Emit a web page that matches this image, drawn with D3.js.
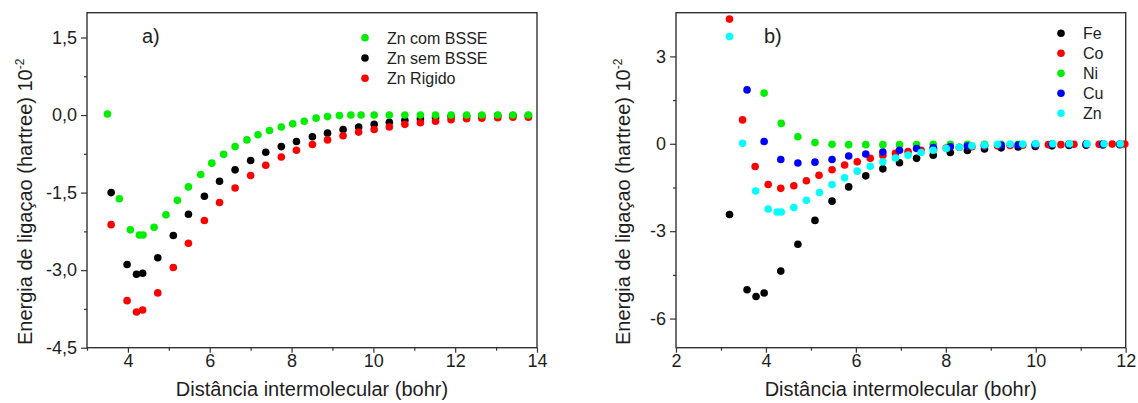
<!DOCTYPE html>
<html>
<head>
<meta charset="utf-8">
<script src="https://cdn.jsdelivr.net/npm/d3@7"></script>
<style>
  body { margin: 0; background: #fff; }
  svg text { font-family: "Liberation Sans", Arial, sans-serif; fill: #1e1e1e; }
</style>
</head>
<body>
<svg id="chart" width="1138" height="403"></svg>
<script>
// ---- panel a) Zn ----
const aXTicks = [4, 6, 8, 10, 12, 14];
const aXMinor = [3, 5, 7, 9, 11, 13];
const aYTicks = [1.5, 0, -1.5, -3, -4.5];
const aYMinor = [0.75, -0.75, -2.25, -3.75];

const znComDist = [3.50, 3.79, 4.06, 4.28, 4.37, 4.64, 4.93, 5.21, 5.48, 5.78, 6.05, 6.34, 6.62, 6.91, 7.18, 7.46, 7.75, 8.03, 8.31, 8.60, 8.88, 9.17, 9.45, 9.70, 10.02, 10.39, 10.77, 11.15, 11.52, 11.90, 12.28, 12.65, 13.04, 13.41, 13.79];
const znComBSSE = [0.02, -1.62, -2.22, -2.32, -2.32, -2.17, -1.93, -1.65, -1.39, -1.15, -0.93, -0.76, -0.61, -0.48, -0.38, -0.30, -0.23, -0.17, -0.12, -0.06, -0.03, -0.01, 0.00, 0.00, 0.00, 0.00, 0.00, 0.00, 0.00, 0.00, 0.00, 0.00, 0.00, 0.00, 0.00];

// sem BSSE and Rigido were computed at the same distances
const znDist = [3.59, 3.98, 4.21, 4.36, 4.73, 5.11, 5.48, 5.87, 6.24, 6.62, 7.00, 7.37, 7.75, 8.12, 8.51, 8.88, 9.26, 9.64, 10.02, 10.39, 10.77, 11.15, 11.52, 11.90, 12.28, 12.65, 13.04, 13.41, 13.79];
const znSemBSSE = [-1.50, -2.89, -3.08, -3.06, -2.76, -2.33, -1.92, -1.57, -1.28, -1.06, -0.88, -0.72, -0.61, -0.51, -0.42, -0.35, -0.28, -0.23, -0.18, -0.14, -0.10, -0.07, -0.05, -0.03, -0.02, -0.02, -0.01, -0.01, -0.01];
const znRigido = [-2.12, -3.59, -3.81, -3.77, -3.44, -2.95, -2.48, -2.04, -1.69, -1.41, -1.17, -0.97, -0.81, -0.68, -0.57, -0.48, -0.40, -0.33, -0.28, -0.23, -0.18, -0.15, -0.12, -0.09, -0.07, -0.06, -0.05, -0.04, -0.04];

// ---- panel b) Fe, Co, Ni, Cu, Zn ----
const bXTicks = [2, 4, 6, 8, 10, 12];
const bXMinor = [3, 5, 7, 9, 11];
const bYTicks = [3, 0, -3, -6];
const bYMinor = [1.5, -1.5, -4.5];

const feDist = [3.19, 3.58, 3.78, 3.96, 4.33, 4.71, 5.09, 5.47, 5.84, 6.22, 6.60, 6.97, 7.35, 7.72, 8.10, 8.48, 8.86, 9.23, 9.61, 9.99, 10.36, 10.74, 11.12, 11.49, 11.87];
const feE = [-2.43, -5.01, -5.24, -5.12, -4.37, -3.45, -2.63, -1.97, -1.48, -1.10, -0.86, -0.65, -0.50, -0.39, -0.30, -0.23, -0.18, -0.14, -0.11, -0.09, -0.07, -0.06, -0.05, -0.04, -0.03];

const coDist = [3.19, 3.48, 3.76, 4.05, 4.33, 4.62, 4.90, 5.18, 5.47, 5.75, 6.03, 6.32, 6.60, 6.88, 7.16, 7.45, 7.73, 8.01, 8.30, 8.58, 8.86, 9.15, 9.43, 9.71, 10.00, 10.28, 10.56, 10.85, 11.13, 11.41, 11.70, 11.98];
const coE = [4.28, 0.82, -0.78, -1.40, -1.53, -1.44, -1.27, -1.08, -0.89, -0.73, -0.62, -0.50, -0.40, -0.33, -0.27, -0.22, -0.18, -0.15, -0.12, -0.10, -0.08, -0.07, -0.06, -0.05, -0.04, -0.03, -0.03, -0.02, -0.02, -0.02, -0.01, -0.01];

const niDist = [3.96, 4.34, 4.71, 5.09, 5.47, 5.84, 6.22, 6.60, 6.97, 7.35, 7.72, 8.10, 8.48, 8.86, 9.23, 9.61, 9.99, 10.36, 10.74, 11.12, 11.49, 11.87];
const niE = [1.74, 0.70, 0.24, 0.04, -0.02, -0.03, -0.03, -0.03, -0.03, -0.03, -0.02, -0.02, -0.02, -0.02, -0.02, -0.02, -0.01, -0.01, -0.01, -0.01, -0.01, -0.01];

const cuDist = [3.58, 3.96, 4.33, 4.71, 5.09, 5.47, 5.84, 6.22, 6.60, 6.97, 7.35, 7.72, 8.10, 8.48, 8.86, 9.23, 9.61, 9.99, 10.36, 10.74, 11.12, 11.49, 11.87];
const cuE = [1.85, 0.08, -0.54, -0.66, -0.63, -0.54, -0.42, -0.35, -0.28, -0.22, -0.16, -0.13, -0.10, -0.08, -0.06, -0.05, -0.04, -0.03, -0.02, -0.02, -0.01, -0.01, -0.01];

const znbDist = [3.19, 3.48, 3.77, 4.05, 4.25, 4.34, 4.62, 4.90, 5.19, 5.47, 5.75, 6.03, 6.32, 6.60, 6.88, 7.16, 7.45, 7.72, 8.01, 8.30, 8.58, 8.86, 9.15, 9.43, 9.71, 10.00, 10.38, 10.75, 11.14, 11.52, 11.88];
const znbE = [3.68, 0.02, -1.62, -2.24, -2.34, -2.34, -2.19, -1.94, -1.67, -1.40, -1.17, -0.94, -0.77, -0.62, -0.49, -0.39, -0.30, -0.22, -0.16, -0.12, -0.07, -0.04, -0.02, -0.01, -0.01, 0.00, 0.00, 0.00, 0.00, 0.00, 0.00];

const svg = d3.select('#chart');
const ptBR = d3.formatLocale({ decimal: ',', thousands: '.', grouping: [3], currency: ['', ''], minus: '-' });

function drawPanel(p) {
    const x = d3.scaleLinear().domain(p.xDomain).range([p.left, p.right]);
    const y = d3.scaleLinear().domain(p.yDomain).range([p.bottom, p.top]);
    const g = svg.append('g');

    // minor ticks first, then the labelled ones
    g.append('g').attr('transform', `translate(0,${p.bottom})`)
        .call(d3.axisBottom(x).tickValues(p.xMinor).tickSize(3).tickFormat(''));
    g.append('g').attr('transform', `translate(${p.left},0)`)
        .call(d3.axisLeft(y).tickValues(p.yMinor).tickSize(3).tickFormat(''));

    g.append('g').attr('transform', `translate(0,${p.bottom})`)
        .call(d3.axisBottom(x).tickValues(p.xTicks).tickSize(5).tickPadding(2).tickFormat(d3.format('d')))
        .selectAll('text').attr('font-size', 18);
    g.append('g').attr('transform', `translate(${p.left},0)`)
        .call(d3.axisLeft(y).tickValues(p.yTicks).tickSize(6).tickPadding(4).tickFormat(p.yFormat))
        .selectAll('text').attr('font-size', 18);

    g.selectAll('.domain').remove();
    g.selectAll('.tick line').attr('stroke', '#333').attr('stroke-width', 1.2);
    g.selectAll('.tick text').attr('fill', '#1e1e1e').style('font-family', '"Liberation Sans", Arial, sans-serif');

    g.append('rect')
        .attr('x', p.left).attr('y', p.top)
        .attr('width', p.right - p.left).attr('height', p.bottom - p.top)
        .attr('fill', 'none').attr('stroke', '#333').attr('stroke-width', 1.4);

    // scatter series
    p.series.forEach(s => {
        g.append('g').selectAll('circle')
            .data(s.x.map((d, i) => [d, s.y[i]]))
            .join('circle')
            .attr('cx', d => x(d[0]))
            .attr('cy', d => y(d[1]))
            .attr('r', 3.8)
            .attr('fill', s.color);
    });

    // legend
    p.legend.forEach((s, i) => {
        const ly = p.legendY + i * p.legendStep;
        g.append('circle').attr('cx', p.legendX).attr('cy', ly).attr('r', 3.8).attr('fill', s.color);
        g.append('text').attr('x', p.legendX + 22).attr('y', ly + 6)
            .attr('font-size', 16).text(s.name);
    });

    g.append('text').attr('x', p.tagX).attr('y', 43).attr('font-size', 20).text(p.tag);

    g.append('text')
        .attr('x', (p.left + p.right) / 2).attr('y', 396)
        .attr('text-anchor', 'middle').attr('font-size', 20)
        .text('Distância intermolecular (bohr)');

    const yt = g.append('text')
        .attr('transform', `translate(${p.yTitleX},345) rotate(-90)`)
        .attr('font-size', 20)
        .text('Energia de ligaçao (hartree) 10');
    yt.append('tspan').attr('dy', -8).attr('font-size', 12).text('-2');
}

const green = '#00ee00', black = '#000000', red = '#ff0000', blue = '#0000ff', cyan = '#00ffff';

drawPanel({
    left: 87, right: 537, top: 12.7, bottom: 347.7,
    xDomain: [3, 14], yDomain: [-4.5, 1.98],
    xTicks: aXTicks, xMinor: aXMinor, yTicks: aYTicks, yMinor: aYMinor,
    yFormat: ptBR.format('.1f'),
    series: [
        { name: 'Zn sem BSSE', x: znDist, y: znSemBSSE, color: black },
        { name: 'Zn Rigido', x: znDist, y: znRigido, color: red },
        { name: 'Zn com BSSE', x: znComDist, y: znComBSSE, color: green }
    ],
    legend: [
        { name: 'Zn com BSSE', color: green },
        { name: 'Zn sem BSSE', color: black },
        { name: 'Zn Rigido', color: red }
    ],
    legendX: 365, legendY: 37.7, legendStep: 20.3,
    tag: 'a)', tagX: 142,
    yTitleX: 32
});

drawPanel({
    left: 676, right: 1125.7, top: 12.7, bottom: 347.7,
    xDomain: [2, 12], yDomain: [-7, 4.5],
    xTicks: bXTicks, xMinor: bXMinor, yTicks: bYTicks, yMinor: bYMinor,
    yFormat: ptBR.format('d'),
    series: [
        { name: 'Fe', x: feDist, y: feE, color: black },
        { name: 'Co', x: coDist, y: coE, color: red },
        { name: 'Ni', x: niDist, y: niE, color: green },
        { name: 'Cu', x: cuDist, y: cuE, color: blue },
        { name: 'Zn', x: znbDist, y: znbE, color: cyan }
    ],
    legend: [
        { name: 'Fe', color: black },
        { name: 'Co', color: red },
        { name: 'Ni', color: green },
        { name: 'Cu', color: blue },
        { name: 'Zn', color: cyan }
    ],
    legendX: 1061, legendY: 33.3, legendStep: 20,
    tag: 'b)', tagX: 764,
    yTitleX: 630
});
</script>
</body>
</html>
